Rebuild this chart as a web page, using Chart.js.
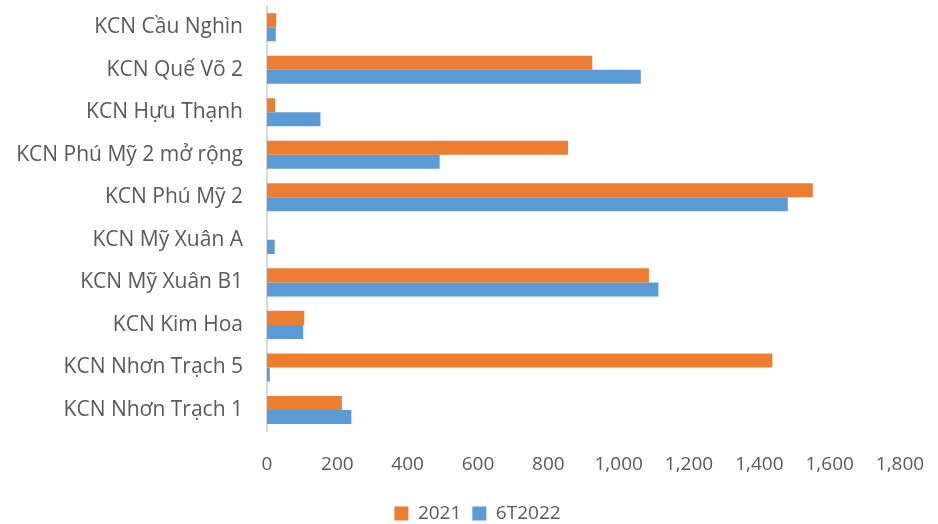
<!DOCTYPE html>
<html>
  <head>
    <meta charset="utf-8">
    <script src="https://cdn.jsdelivr.net/npm/chart.js"></script>
    <style>
      html, body { margin: 0; padding: 0; background: #ffffff; }
      #wrap { width: 938px; height: 524px; }
    </style>
  </head>
  <body>
    <div id="wrap"><canvas id="kcnChart"></canvas></div>
    <script>
      const CATEGORIES = [
        'KCN Cầu Nghìn',
        'KCN Quế Võ 2',
        'KCN Hựu Thạnh',
        'KCN Phú Mỹ 2 mở rộng',
        'KCN Phú Mỹ 2',
        'KCN Mỹ Xuân A',
        'KCN Mỹ Xuân B1',
        'KCN Kim Hoa',
        'KCN Nhơn Trạch 5',
        'KCN Nhơn Trạch 1'
      ];
      const VALUES_2021 = [26, 925, 23, 856, 1552, 0, 1086, 106, 1437, 213];
      const VALUES_6T2022 = [25, 1063, 152, 491, 1481, 22, 1113, 103, 8, 240];
      const X_MAX = 1800;
      const X_STEP = 200;

      const ORANGE = '#ED7D31';
      const BLUE = '#5B9BD5';
      const TEXT = '#595959';

      Chart.defaults.font.family = '"Open Sans", "Noto Sans", sans-serif';
      Chart.defaults.color = TEXT;

      const ctx = document.getElementById('kcnChart');
      new Chart(ctx, {
        type: 'bar',
        data: {
          labels: CATEGORIES,
          datasets: [
            { label: '2021', data: VALUES_2021, backgroundColor: ORANGE },
            { label: '6T2022', data: VALUES_6T2022, backgroundColor: BLUE }
          ]
        },
        options: {
          indexAxis: 'y',
          responsive: true,
          maintainAspectRatio: false,
          animation: false,
          categoryPercentage: 0.66,
          barPercentage: 1,
          // negative right/bottom padding pushes the legend right and down
          layout: { padding: { top: 6, right: -17, left: 0, bottom: -9 } },
          scales: {
            x: {
              min: 0,
              max: X_MAX,
              ticks: { stepSize: X_STEP, font: { size: 19 }, padding: 14 },
              grid: { display: false },
              border: { display: false },
              afterFit: (scale) => {
                scale.height += 3;
                scale.paddingRight = 38;
              }
            },
            y: {
              grid: { display: false },
              border: { display: true, color: '#d9d9d9', width: 2 },
              ticks: { font: { size: 21 }, padding: 16 },
              afterFit: (scale) => {
                scale.width = 267;
                scale.paddingTop = 0;
                scale.paddingBottom = 0;
              }
            }
          },
          plugins: {
            legend: {
              position: 'bottom',
              labels: { boxWidth: 14, boxHeight: 14, font: { size: 19 }, padding: 11 }
            },
            tooltip: { enabled: false }
          }
        }
      });
    </script>
  </body>
</html>
